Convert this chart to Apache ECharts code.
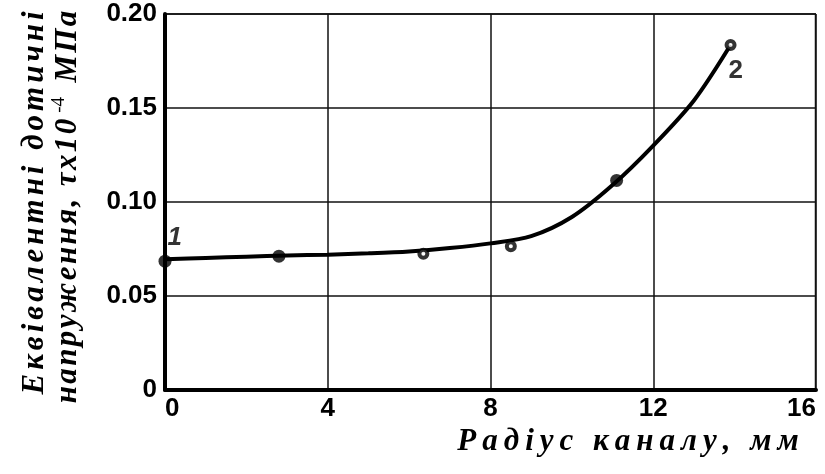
<!DOCTYPE html>
<html><head><meta charset="utf-8">
<script src="https://cdn.jsdelivr.net/npm/echarts@6/dist/echarts.min.js"></script>
<style>html,body{margin:0;background:#fff}#chart{width:825px;height:474px}</style>
</head><body><div id="chart"></div>
<script>
// measured points
var radius = [0, 2.8, 6.35, 8.5, 11.1, 13.9];
var stress = [0.0685, 0.0712, 0.0725, 0.0765, 0.1115, 0.1835];
var hollow = [false, false, true, true, false, true];
var pointTags = ['1', '', '', '', '', '2'];
// fitted curve
var curveX = [0, 1, 2, 3, 4, 5, 6, 7, 8, 9, 10, 11, 12, 13, 13.9];
var curveY = [0.0695, 0.0702, 0.0709, 0.0715, 0.072, 0.0727, 0.0737, 0.0755, 0.078, 0.0818, 0.092, 0.109, 0.130, 0.154, 0.1835];
var xTicks = [0, 4, 8, 12, 16];
var yTicks = [0, 0.05, 0.10, 0.15, 0.20];
var yTitle1 = 'Еквівалентні дотичні';
var yTitle2a = 'напруження, τх10';
var yTitle2b = 'МПа';
var xTitle = 'Радіус каналу, мм';

function spaced(str, key) {
  return str.split('').map(function (c) { return '{' + key + '|' + c + '}'; }).join('');
}

var serif = {fontFamily: 'Liberation Serif', fontStyle: 'italic', fontWeight: 'bold', fontSize: 31, color: '#000'};
function rs(pad) {
  return Object.assign({padding: [0, pad]}, serif);
}

var chart = echarts.init(document.getElementById('chart'));

var pts = radius.map(function (x, i) {
  return {
    value: [x, stress[i]],
    itemStyle: hollow[i] ? {color: '#fff', borderColor: '#000', borderWidth: 4} : {color: '#000'},
    symbolSize: hollow[i] ? 8 : 13,
    label: {
      show: pointTags[i] !== '',
      formatter: pointTags[i],
      position: i === 0 ? [9, -30] : [4, 19],
      fontFamily: 'Liberation Sans', fontWeight: 'bold', fontSize: 26,
      fontStyle: i === 0 ? 'italic' : 'normal', color: '#000'
    }
  };
});

chart.setOption({
  animation: false,
  backgroundColor: '#fff',
  grid: {left: 165, right: 9, top: 14, bottom: 84},
  xAxis: {
    type: 'value', min: 0, max: 16, interval: 4,
    axisLine: {lineStyle: {color: '#000', width: 4}},
    axisTick: {show: false},
    splitLine: {lineStyle: {color: '#111', width: 1.5}},
    axisLabel: {
      color: '#000', fontFamily: 'Liberation Sans', fontWeight: 'bold', fontSize: 26, margin: 6,
      formatter: function (v) { return xTicks.indexOf(v) >= 0 ? String(v) : ''; },
      alignMinLabel: 'left', alignMaxLabel: 'right'
    }
  },
  yAxis: {
    type: 'value', min: 0, max: 0.2, interval: 0.05,
    axisLine: {show: true, lineStyle: {color: '#000', width: 4}},
    axisTick: {show: false},
    splitLine: {lineStyle: {color: '#111', width: 1.5}},
    axisLabel: {
      color: '#000', fontFamily: 'Liberation Sans', fontWeight: 'bold', fontSize: 26, margin: 8,
      formatter: function (v) { return v === 0 ? '0' : v.toFixed(2); }
    }
  },
  graphic: [
    {type: 'line', shape: {x1: 165, y1: 14, x2: 816, y2: 14}, style: {stroke: '#111', lineWidth: 1.5}},
    {type: 'line', shape: {x1: 815.5, y1: 14, x2: 815.5, y2: 390}, style: {stroke: '#111', lineWidth: 1.5}},
    {
      type: 'text', x: 35, y: 203, rotation: Math.PI / 2,
      style: {text: spaced(yTitle1, 'a'), align: 'center', verticalAlign: 'middle', rich: {a: rs(2.0)}}
    },
    {
      type: 'text', x: 68, y: 207, rotation: Math.PI / 2,
      style: {
        text: spaced(yTitle2a, 'a') + '{s| -4}' + '{a| }' + spaced(yTitle2b, 'a'),
        align: 'center', verticalAlign: 'middle',
        rich: {
          a: rs(1.2),
          s: {fontFamily: 'Liberation Serif', fontSize: 19, color: '#000', verticalAlign: 'top', padding: [0, 3, 18, 0]}
        }
      }
    },
    {
      type: 'text', x: 628, y: 442,
      style: {text: spaced(xTitle, 'a'), align: 'center', verticalAlign: 'middle', rich: {a: rs(3)}}
    }
  ],
  series: [
    {
      type: 'line', data: curveX.map(function (x, i) { return [x, curveY[i]]; }),
      smooth: 0.3, showSymbol: false, lineStyle: {color: '#000', width: 4}, z: 3
    },
    {type: 'scatter', data: pts, z: 4}
  ]
});
</script></body></html>
